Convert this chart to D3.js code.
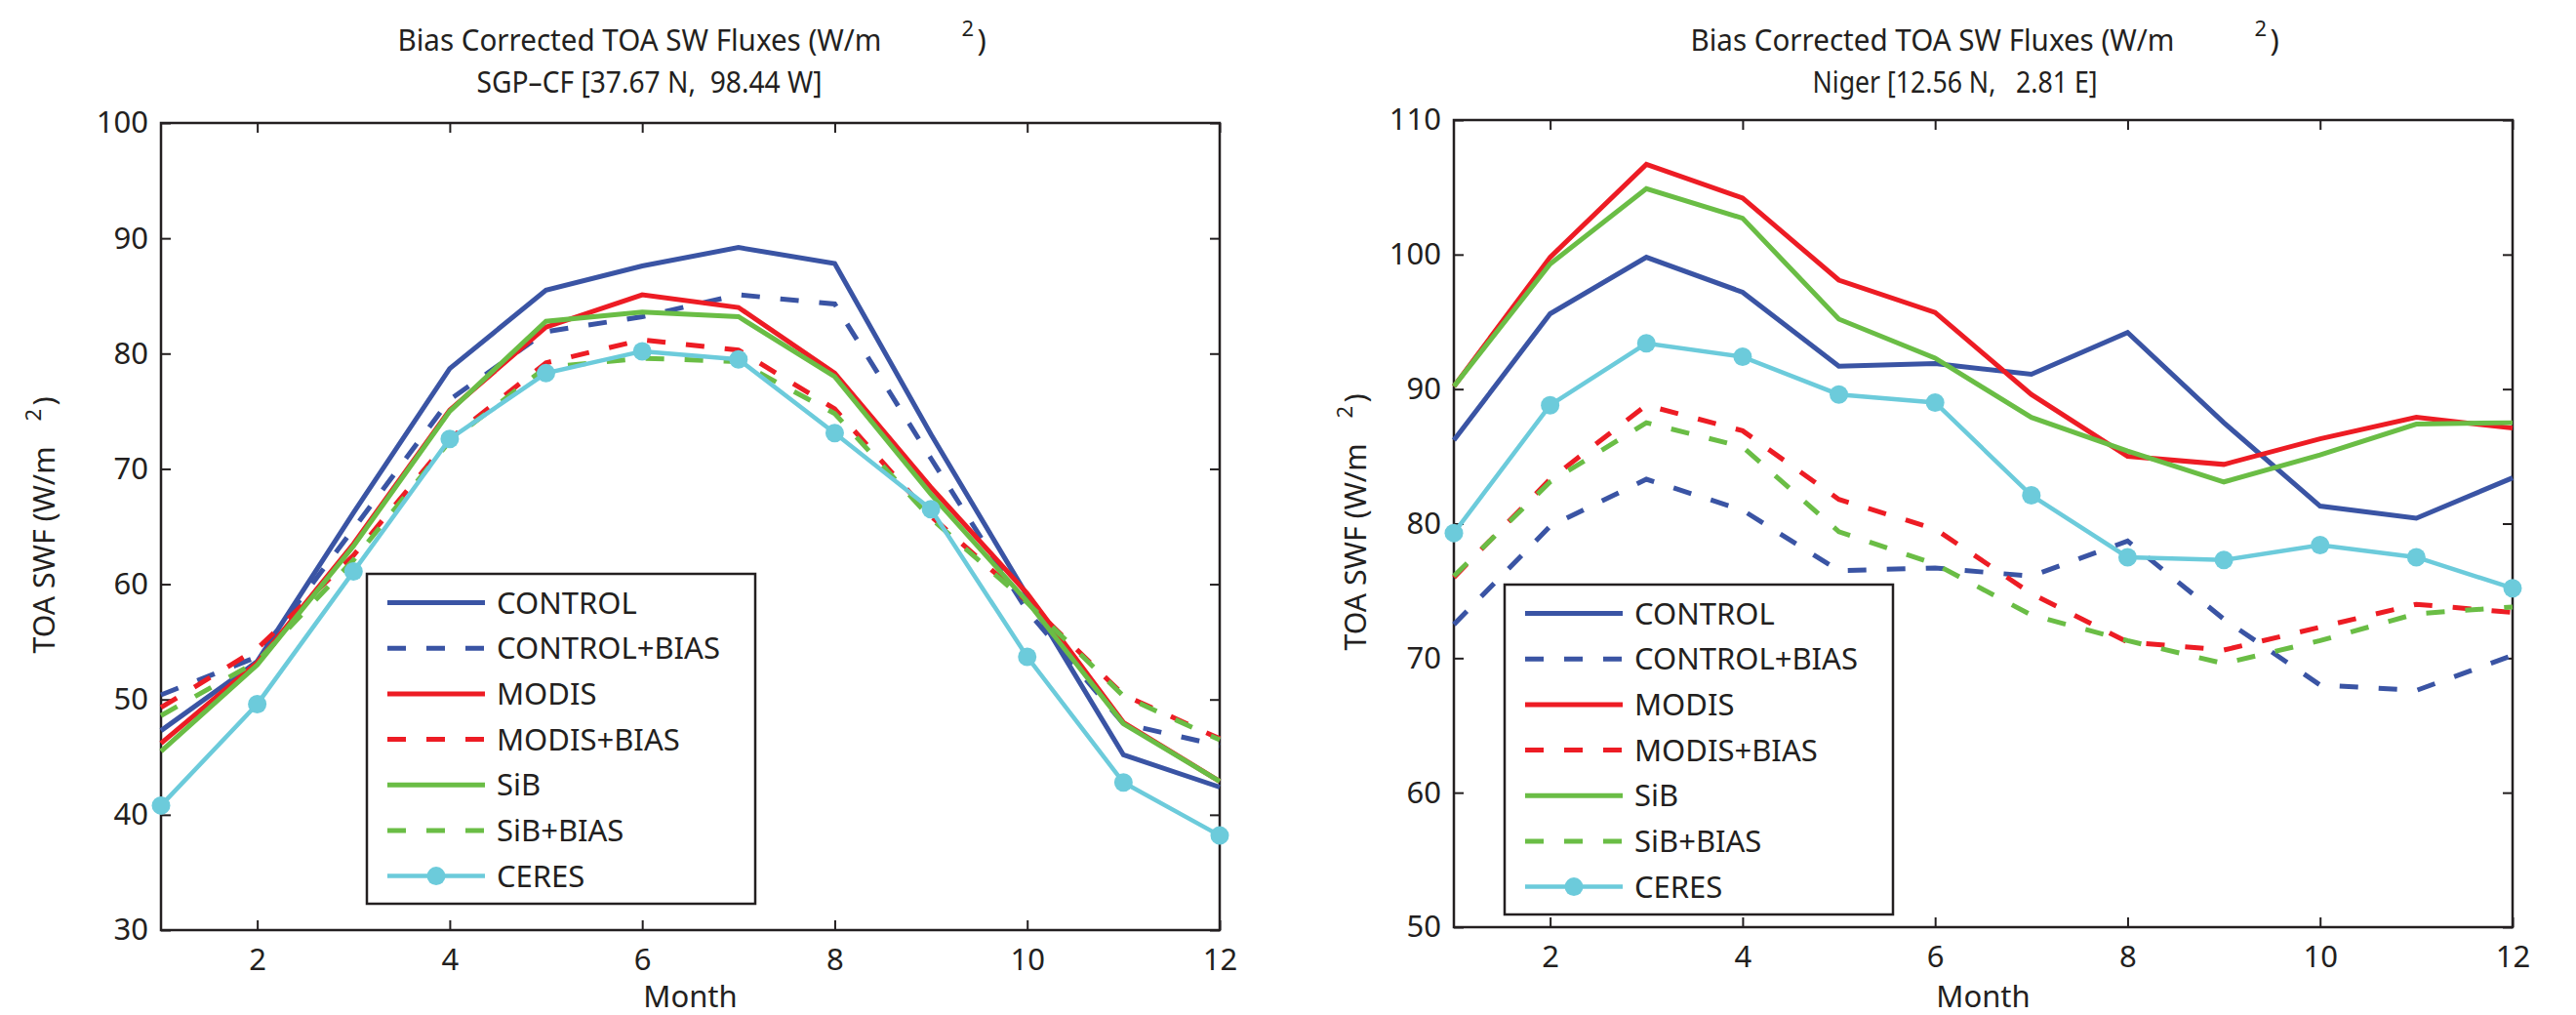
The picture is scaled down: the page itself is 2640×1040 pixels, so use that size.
<!DOCTYPE html>
<html>
<head>
<meta charset="utf-8">
<script src="https://cdn.jsdelivr.net/npm/d3@7"></script>
<style>
  body { margin: 0; background: #fff; }
  svg text { font-family: "Noto Sans", "Open Sans", sans-serif; fill: #231f20; }
</style>
</head>
<body>
<svg id="fig" width="2640" height="1040"></svg>
<script>
var months = [1, 2, 3, 4, 5, 6, 7, 8, 9, 10, 11, 12];
var monthTicks = [2, 4, 6, 8, 10, 12];
var seriesNames = ["CONTROL", "CONTROL+BIAS", "MODIS", "MODIS+BIAS", "SiB", "SiB+BIAS", "CERES"];

// SGP-CF site
var sgpTicks = [30, 40, 50, 60, 70, 80, 90, 100];
var sgpControl     = [47.3, 53.3, 66.2, 78.7, 85.5, 87.6, 89.2, 87.8, 73.0, 59.0, 45.2, 42.4];
var sgpControlBias = [50.4, 53.7, 64.8, 76.0, 81.9, 83.2, 85.1, 84.3, 70.9, 57.7, 47.9, 46.0];
var sgpModis       = [46.2, 53.2, 63.5, 75.1, 82.3, 85.1, 84.0, 78.3, 68.4, 59.2, 48.0, 42.9];
var sgpModisBias   = [49.3, 54.4, 62.5, 72.6, 79.2, 81.2, 80.3, 75.2, 65.9, 58.5, 50.4, 46.6];
var sgpSib         = [45.5, 53.0, 63.3, 75.0, 82.8, 83.6, 83.2, 78.0, 67.8, 58.5, 47.9, 42.9];
var sgpSibBias     = [48.6, 53.3, 62.1, 72.4, 78.8, 79.6, 79.3, 74.8, 65.7, 58.4, 50.3, 46.5];
var sgpCeres       = [40.8, 49.6, 61.1, 72.6, 78.3, 80.2, 79.5, 73.1, 66.5, 53.7, 42.8, 38.2];

// Niger site
var nigerTicks = [50, 60, 70, 80, 90, 100, 110];
var nigerControl     = [86.2, 95.6, 99.8, 97.2, 91.7, 91.9, 91.1, 94.2, 87.5, 81.3, 80.4, 83.4];
var nigerControlBias = [72.5, 79.8, 83.3, 81.0, 76.5, 76.7, 76.1, 78.7, 72.9, 68.0, 67.6, 70.2];
var nigerModis       = [90.2, 99.8, 106.7, 104.2, 98.1, 95.7, 89.6, 85.0, 84.4, 86.3, 87.9, 87.1];
var nigerModisBias   = [76.0, 83.3, 88.8, 86.9, 81.8, 79.6, 74.8, 71.2, 70.6, 72.3, 74.0, 73.4];
var nigerSib         = [90.2, 99.3, 104.9, 102.7, 95.2, 92.3, 87.9, 85.4, 83.1, 85.1, 87.4, 87.5];
var nigerSibBias     = [76.1, 83.1, 87.5, 85.7, 79.4, 77.0, 73.2, 71.3, 69.6, 71.3, 73.3, 73.8];
var nigerCeres       = [79.3, 88.8, 93.4, 92.4, 89.6, 89.0, 82.1, 77.5, 77.3, 78.4, 77.5, 75.2];

var colors = ["#3a54a4", "#3a54a4", "#ed1c24", "#ed1c24", "#6abd45", "#6abd45", "#6ccbdb"];
var dashed = [false, true, false, true, false, true, false];
var axisColor = "#231f20";
var fs = 31;

var svg = d3.select("#fig");

function drawPanel(p) {
  var x = d3.scaleLinear().domain([1, 12]).range([p.left, p.right]);
  var y = d3.scaleLinear().domain(p.yDomain).range([p.bottom, p.top]);
  var g = svg.append("g");

  // ticks on all four sides, pointing inward (matlab box)
  var bottomAx = g.append("g").attr("transform", "translate(0," + p.bottom + ")")
      .call(d3.axisBottom(x).tickValues(monthTicks).tickSizeInner(-10).tickSizeOuter(0).tickPadding(19));
  var topAx = g.append("g").attr("transform", "translate(0," + p.top + ")")
      .call(d3.axisTop(x).tickValues(monthTicks).tickSizeInner(-10).tickSizeOuter(0).tickFormat(""));
  var leftAx = g.append("g").attr("transform", "translate(" + p.left + ",0)")
      .call(d3.axisLeft(y).tickValues(p.yTicks).tickSizeInner(-10).tickSizeOuter(0).tickPadding(13));
  var rightAx = g.append("g").attr("transform", "translate(" + p.right + ",0)")
      .call(d3.axisRight(y).tickValues(p.yTicks).tickSizeInner(-10).tickSizeOuter(0).tickFormat(""));

  [bottomAx, topAx, leftAx, rightAx].forEach(function (a) {
    a.select(".domain").remove();
    a.selectAll(".tick line").attr("stroke", axisColor).attr("stroke-width", 2);
    a.selectAll(".tick text").attr("font-size", fs).attr("font-family", null);
  });

  g.append("rect")
      .attr("x", p.left).attr("y", p.top)
      .attr("width", p.right - p.left).attr("height", p.bottom - p.top)
      .attr("fill", "none").attr("stroke", axisColor).attr("stroke-width", 2.5);

  var line = d3.line()
      .x(function (d, i) { return x(months[i]); })
      .y(function (d) { return y(d); });

  p.series.forEach(function (vals, k) {
    g.append("path")
        .attr("d", line(vals))
        .attr("fill", "none")
        .attr("stroke", colors[k])
        .attr("stroke-width", k == 6 ? 4.5 : 5)
        .attr("stroke-dasharray", dashed[k] ? "19,21" : null);
  });

  // CERES markers
  g.selectAll("circle.ceres")
      .data(p.series[6])
      .enter().append("circle")
      .attr("class", "ceres")
      .attr("cx", function (d, i) { return x(months[i]); })
      .attr("cy", function (d) { return y(d); })
      .attr("r", 9.5)
      .attr("fill", colors[6]);

  // two line title (matlab leaves a gap before the superscript)
  var cx = (p.left + p.right) / 2;
  var title = g.append("text").attr("font-size", fs);
  title.append("tspan").attr("x", cx - 300).attr("y", 52)
      .attr("textLength", 496).attr("lengthAdjust", "spacingAndGlyphs")
      .text("Bias Corrected TOA SW Fluxes (W/m");
  title.append("tspan").attr("x", cx + 278).attr("y", 37).attr("font-size", 22).text("2");
  title.append("tspan").attr("x", cx + 294).attr("y", 52).text(")");
  g.append("text").attr("font-size", fs)
      .attr("x", cx + p.subShift).attr("y", 95)
      .attr("text-anchor", "middle")
      .attr("textLength", p.subWidth).attr("lengthAdjust", "spacingAndGlyphs")
      .text(p.site);

  // x label
  g.append("text").attr("x", cx).attr("y", 1032).attr("font-size", fs)
      .attr("text-anchor", "middle").text("Month");

  // y label
  var cy = (p.top + p.bottom) / 2;
  var yl = g.append("text").attr("font-size", fs)
      .attr("transform", "translate(" + p.ylabelX + "," + cy + ") rotate(-90)");
  yl.append("tspan").attr("x", -130).attr("y", 0)
      .attr("textLength", 212).attr("lengthAdjust", "spacingAndGlyphs").text("TOA SWF (W/m");
  yl.append("tspan").attr("x", 108).attr("y", -14).attr("font-size", 22).text("2");
  yl.append("tspan").attr("x", 124).attr("y", 0).text(")");

  // legend
  var lg = g.append("g").attr("transform", "translate(" + p.legendX + "," + p.legendY + ")");
  lg.append("rect").attr("width", 398).attr("height", 338)
      .attr("fill", "#fff").attr("stroke", axisColor).attr("stroke-width", 2.5);
  seriesNames.forEach(function (name, k) {
    var ry = 29.6 + k * 46.67;
    lg.append("line").attr("x1", 21).attr("x2", 121).attr("y1", ry).attr("y2", ry)
        .attr("stroke", colors[k]).attr("stroke-width", k == 6 ? 4.5 : 5)
        .attr("stroke-dasharray", dashed[k] ? "19,21" : null);
    if (k == 6) {
      lg.append("circle").attr("cx", 71).attr("cy", ry).attr("r", 9.5).attr("fill", colors[k]);
    }
    lg.append("text").attr("x", 133).attr("y", ry).attr("dy", "0.36em")
        .attr("font-size", fs).text(name);
  });
}

drawPanel({
  left: 165, right: 1250, top: 126, bottom: 953,
  yDomain: [30, 100], yTicks: sgpTicks,
  site: "SGP\u2013CF [37.67 N,\u00a0\u00a098.44 W]", subShift: -42, subWidth: 354,
  ylabelX: 56, legendX: 376, legendY: 588,
  series: [sgpControl, sgpControlBias, sgpModis, sgpModisBias, sgpSib, sgpSibBias, sgpCeres]
});

drawPanel({
  left: 1490, right: 2575, top: 123, bottom: 950,
  yDomain: [50, 110], yTicks: nigerTicks,
  site: "Niger [12.56 N,\u00a0\u00a0\u00a02.81 E]", subShift: -29, subWidth: 292,
  ylabelX: 1400, legendX: 1542, legendY: 599,
  series: [nigerControl, nigerControlBias, nigerModis, nigerModisBias, nigerSib, nigerSibBias, nigerCeres]
});
</script>
</body>
</html>
